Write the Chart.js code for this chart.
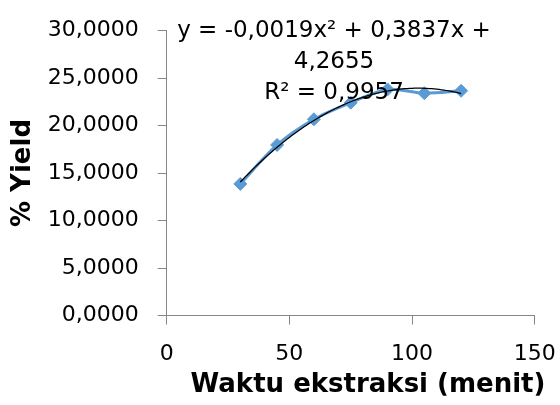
<!DOCTYPE html>
<html><head><meta charset="utf-8">
<script src="https://cdn.jsdelivr.net/npm/chart.js@4/dist/chart.umd.min.js"></script>
<style>html,body{margin:0;padding:0;background:#fff}#wrap{width:560px;height:405px}</style>
</head><body><div id="wrap"><canvas id="c" width="560" height="405"></canvas></div>
<script>
const xValues = [30, 45, 60, 75, 90, 105, 120];
const yieldValues = [13.85, 17.95, 20.65, 22.4, 23.8, 23.4, 23.65];
const xTickLabels = ['0', '50', '100', '150'];
const yTickLabels = ['0,0000', '5,0000', '10,0000', '15,0000', '20,0000', '25,0000', '30,0000'];
const trendLabel = ['y = -0,0019x\u00B2 + 0,3837x +', '4,2655', 'R\u00B2 = 0,9957'];
const xTitle = 'Waktu ekstraksi (menit)';
const yTitle = '% Yield';

const points = xValues.map((x, i) => ({x: x, y: yieldValues[i]}));

// least-squares quadratic trendline fitted to the data (as the spreadsheet does)
function quadFit(xs, ys) {
  const S = [0, 0, 0, 0, 0], T = [0, 0, 0];
  xs.forEach((x, i) => {
    for (let k = 0; k < 5; k++) S[k] += Math.pow(x, k);
    for (let k = 0; k < 3; k++) T[k] += ys[i] * Math.pow(x, k);
  });
  const A = [[S[0], S[1], S[2], T[0]], [S[1], S[2], S[3], T[1]], [S[2], S[3], S[4], T[2]]];
  for (let c = 0; c < 3; c++) {
    for (let r = c + 1; r < 3; r++) {
      const f = A[r][c] / A[c][c];
      for (let k = c; k < 4; k++) A[r][k] -= f * A[c][k];
    }
  }
  const sol = [0, 0, 0];
  for (let r = 2; r >= 0; r--) {
    let s = A[r][3];
    for (let k = r + 1; k < 3; k++) s -= A[r][k] * sol[k];
    sol[r] = s / A[r][r];
  }
  return sol; // c0, c1, c2
}
const fit = quadFit(xValues, yieldValues);
const trendPts = [];
for (let x = xValues[0]; x <= xValues[xValues.length - 1]; x += 1) {
  trendPts.push({x: x, y: fit[0] + fit[1] * x + fit[2] * x * x});
}

const textPlugin = {
  id: 'txt',
  afterDatasetsDraw(chart) {
    const ctx = chart.ctx;
    ctx.save();
    ctx.fillStyle = '#000';
    ctx.textAlign = 'center';
    ctx.textBaseline = 'alphabetic';
    ctx.font = '23px "DejaVu Sans"';
    const base = [36.5, 67.5, 99];
    trendLabel.forEach((t, i) => ctx.fillText(t, 334, base[i]));
    ctx.font = 'bold 26px "DejaVu Sans"';
    ctx.fillText(xTitle, 368, 392);
    ctx.restore();
  }
};

const axisColor = '#868686';
new Chart(document.getElementById('c'), {
  type: 'scatter',
  data: {
    datasets: [
      {
        data: trendPts, showLine: true, borderColor: '#000', borderWidth: 1.25,
        pointRadius: 0, tension: 0, order: 1
      },
      {
        data: points, showLine: true, borderColor: '#5B9BD5', borderWidth: 3,
        backgroundColor: '#5B9BD5', pointStyle: 'rectRot', pointRadius: 6.5,
        pointBorderWidth: 1, pointBorderColor: '#5B9BD5', tension: 0.3, order: 2
      }
    ]
  },
  options: {
    responsive: false, devicePixelRatio: 1, animation: false,
    layout: {padding: {left: 0, top: 30.5, right: 25.3, bottom: 0}},
    plugins: {legend: {display: false}, tooltip: {enabled: false}},
    scales: {
      x: {
        type: 'linear', min: 0, max: 150,
        afterFit(s) { s.height = 89.5; s.paddingLeft = 0; s.paddingRight = 0; },
        afterBuildTicks(s) { s.ticks = xTickLabels.map(v => ({value: Number(v)})); },
        ticks: {
          padding: 17, color: '#000', font: {family: 'DejaVu Sans', size: 22},
          callback: (v, i) => xTickLabels[i], maxRotation: 0, autoSkip: false
        },
        grid: {drawOnChartArea: false, drawTicks: true, tickLength: 9, color: axisColor},
        border: {display: true, color: axisColor},
        title: {display: false}
      },
      y: {
        type: 'linear', min: 0, max: 30,
        afterFit(s) { s.width = 166.7; s.paddingTop = 0; s.paddingBottom = 0; },
        afterBuildTicks(s) { s.ticks = yTickLabels.map((t, i) => ({value: i * 5})); },
        ticks: {
          padding: 19, color: '#000', font: {family: 'DejaVu Sans', size: 22},
          callback: (v, i) => yTickLabels[i], autoSkip: false
        },
        grid: {drawOnChartArea: false, drawTicks: true, tickLength: 9, color: axisColor},
        border: {display: true, color: axisColor},
        title: {display: true, text: yTitle, color: '#000',
          font: {family: 'DejaVu Sans', size: 26, weight: 'bold'}, padding: {top: 8, bottom: 0}}
      }
    }
  },
  plugins: [textPlugin]
});
</script></body></html>
